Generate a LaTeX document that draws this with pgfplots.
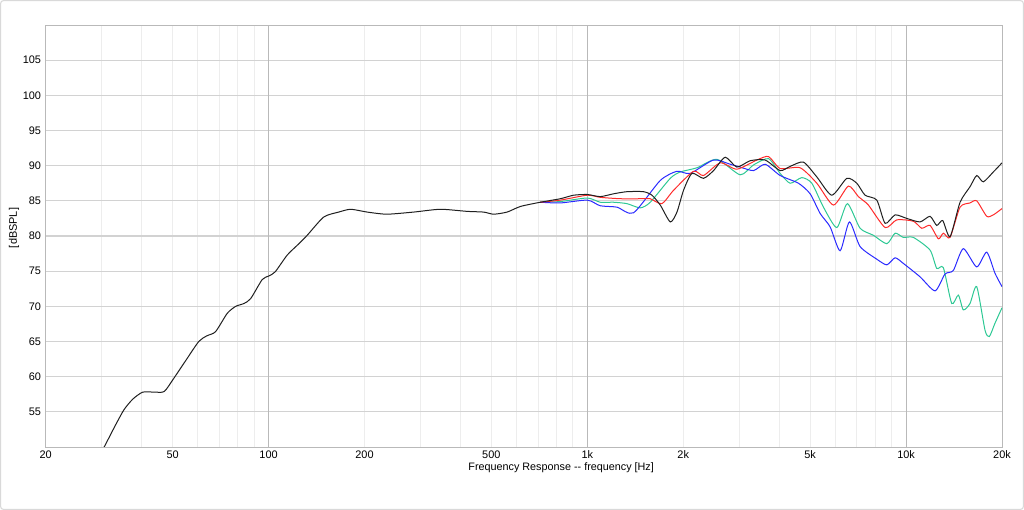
\documentclass[border=0pt]{standalone}
\usepackage{fontspec}
\setmainfont{Liberation Sans}
\usepackage{pgfplots}
\pgfplotsset{compat=1.18}
\usepackage{pgfplotstable}

\definecolor{curveblack}{HTML}{202020}
\definecolor{curvered}{HTML}{FF2A2A}
\definecolor{curvegreen}{HTML}{2DC894}
\definecolor{curveblue}{HTML}{2A2AFF}

% frequency [Hz]  level [dBSPL]
\pgfplotstableread{
f dB
30 49.6
30.5 50.0
33 53.0
35.2 55.3
37.5 56.8
40.3 57.8
44 57.8
47.1 57.9
50.5 59.8
55 62.3
60.4 65.0
64 65.8
68.2 66.4
74.2 69.0
78.9 70.0
83.7 70.4
87.9 71.1
95.5 73.8
100 74.3
104.9 74.9
114.5 77.3
124.5 78.9
132.2 80.1
149 82.7
166 83.4
181 83.8
204 83.4
235 83.1
285 83.4
346 83.8
420 83.5
473 83.4
508 83.1
560 83.4
617 84.2
712 84.8
823 85.3
906 85.8
1000 85.9
1098 85.6
1209 86.0
1332 86.3
1501 86.3
1595 85.8
1694 84.4
1821 82.0
1911 83.4
2004 86.5
2129 88.9
2315 88.2
2489 89.3
2708 91.2
2946 89.8
3243 90.7
3614 90.8
4027 89.3
4329 89.9
4765 90.5
5249 88.4
5849 85.8
6519 88.2
7006 87.5
7439 85.8
8095 85.1
8597 81.8
9238 83.0
10050 82.5
11060 82.0
11890 82.8
12480 81.5
13030 82.2
13740 79.9
14770 84.8
15870 87.0
16660 88.6
17470 87.7
18780 89.1
20000 90.4
}\blackdata

\pgfplotstableread{
f dB
712 84.8
823 85.1
1000 85.8
1098 85.5
1269 85.3
1501 85.3
1576 85.3
1715 84.6
1865 86.5
2154 89.2
2315 88.6
2612 90.4
2946 89.5
3404 90.8
3702 91.3
4027 89.6
4653 89.7
5249 87.5
5917 84.4
6594 87.1
7087 85.6
7618 84.4
8597 81.2
9351 82.3
10540 82.1
11200 81.1
11890 81.5
12630 79.6
13090 80.4
13740 79.8
14770 84.1
15870 84.7
16660 85.0
17910 82.8
18780 83.0
20000 83.9
}\reddata

\pgfplotstableread{
f dB
712 84.8
823 84.9
1000 85.4
1098 84.8
1209 84.8
1332 84.6
1466 84.0
1576 84.8
1821 88.2
1957 89.1
2208 89.7
2551 90.9
3017 88.7
3321 90.1
3702 91.0
4027 88.9
4329 87.5
4710 88.3
5063 87.5
5506 84.1
6064 81.2
6546 84.6
7175 81.1
7899 80.1
8703 78.9
9238 80.4
9806 79.8
10540 79.8
11890 78.0
12480 75.4
13090 75.5
13910 70.4
14590 71.6
15120 69.5
15870 70.4
16660 72.8
17690 66.6
18250 65.7
19010 67.6
20000 69.8
}\greendata

\pgfplotstableread{
f dB
712 84.8
823 84.7
1000 85.1
1098 84.3
1239 84.1
1397 83.3
1694 87.9
1911 89.2
2103 88.9
2489 90.8
2808 90.2
3017 89.8
3321 89.3
3614 90.2
4027 88.6
4597 87.5
5001 86.0
5376 83.2
5778 81.3
6211 77.9
6642 82.0
7175 78.5
8095 76.7
8703 75.9
9238 76.9
9806 76.1
11060 74.2
12330 72.2
13250 74.6
14070 75.1
15120 78.2
16660 75.6
17910 77.7
19010 74.7
20000 72.8
}\bluedata

\begin{document}
\begin{tikzpicture}
	% whole picture is 1024x510 px at 0.75pt per px, axis box at px (45.7,25)-(1002,447)
	\useasboundingbox (-34.3pt,-47.25pt) rectangle (733.7pt,335.25pt);
	\draw[gray!30, line width=0.8pt, rounded corners=2pt] (-33.8pt,-46.75pt) rectangle (733.2pt,334.75pt);

	\begin{axis}[
			scale only axis, width=717.2pt, height=316.5pt,
			xmode=log, xmin=20, xmax=20000, ymin=50, ymax=110,
			xtick={20,50,100,200,500,1000,2000,5000,10000,20000},
			xticklabels={20,50,100,200,500,1k,2k,5k,10k,20k},
			minor xtick={30,40,60,70,80,90,300,400,600,700,800,900,3000,4000,6000,7000,8000,9000},
			extra x ticks={100,1000,10000}, extra x tick labels={},
			extra x tick style={major grid style={gray!55, line width=0.8pt}},
			ytick={55,60,...,105},
			major tick length=0pt, minor tick length=0pt,
			xmajorgrids, xminorgrids, ymajorgrids,
			major grid style={gray!14, line width=0.6pt},
			minor grid style={gray!14, line width=0.6pt},
			y grid style={gray!35, line width=0.9pt},
			axis line style={gray!55, line width=0.7pt},
			tick label style={font=\fontsize{8.2pt}{9pt}\selectfont, black},
			/pgf/number format/assume math mode=true,
			xticklabel style={yshift=0.6pt},
			xlabel={Frequency Response {-}{-} frequency [Hz]},
			xlabel style={at={(axis description cs:0.539,0)}, anchor=center, yshift=-15.5pt,
					font=\fontsize{8.1pt}{9pt}\selectfont},
			ylabel={[dBSPL]},
			ylabel style={at={(axis description cs:-0.0332,0.519)}, anchor=center,
					font=\fontsize{8.2pt}{9pt}\selectfont},
			clip=true,
		]
		\addplot[curvegreen, line width=0.75pt, smooth, tension=0.4] table[x=f, y=dB] {\greendata};
		\addplot[curveblue, line width=0.75pt, smooth, tension=0.4] table[x=f, y=dB] {\bluedata};
		\addplot[curvered, line width=0.75pt, smooth, tension=0.4] table[x=f, y=dB] {\reddata};
		\addplot[curveblack, line width=0.75pt, smooth, tension=0.4] table[x=f, y=dB] {\blackdata};
	\end{axis}
\end{tikzpicture}
\end{document}
